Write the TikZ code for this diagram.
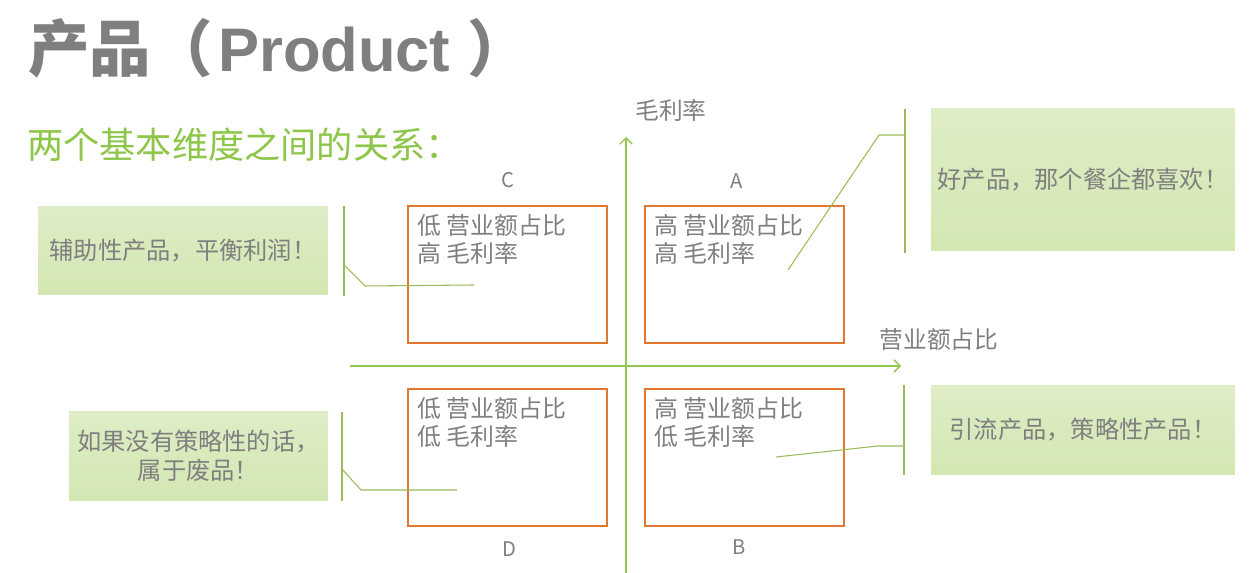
\documentclass[tikz,border=0pt]{standalone}
\usepackage{fontspec}
\setmainfont{Noto Sans CJK SC}
\newfontfamily\latinfont{Liberation Sans}
\usetikzlibrary{arrows.meta}
\definecolor{txtgray}{HTML}{7F7F7F}
\definecolor{axisgreen}{HTML}{92C551}
\definecolor{leadgreen}{HTML}{9BBB59}
\definecolor{subgreen}{HTML}{8DC648}
\definecolor{boxorange}{HTML}{E2772F}
\definecolor{calltop}{HTML}{DEEDC6}
\definecolor{callbot}{HTML}{D3E7B2}
\begin{document}
\begin{tikzpicture}[x=0.02cm,y=-0.02cm,
 quad/.style={draw=boxorange,line width=0.7pt,minimum width=3.98cm,minimum height=2.74cm,inner sep=0},
 quadtext/.style={anchor=north west,inner sep=0,align=left,text=txtgray,font=\fontsize{13.6}{15.9}\selectfont},
 callout/.style={top color=calltop,bottom color=callbot,draw=none,inner sep=0,text=txtgray,font=\fontsize{13.8}{16.4}\selectfont,align=center},
 axis/.style={draw=axisgreen,line width=0.8pt,-{Straight Barb[length=3.5pt,width=7pt]}},
 bar/.style={draw=leadgreen,line width=0.7pt},
 leader/.style={draw=leadgreen,line width=0.6pt},
 letter/.style={text=txtgray,font=\fontsize{11.5}{13}\selectfont,inner sep=0},
 axlabel/.style={text=txtgray,font=\fontsize{13.5}{16}\selectfont,inner sep=0}]

\useasboundingbox[fill=white] (0,0) rectangle (1251,573);

% title and subtitle
\node[anchor=base west,inner sep=0,text=txtgray,font=\fontsize{35}{40}\selectfont\bfseries] (title) at (28,72) {产品（\hspace{3pt}{\latinfont Product }）};
\node[anchor=west,inner sep=0,text=subgreen,font=\fontsize{20.6}{24}\selectfont] (subtitle) at (27,145) {两个基本维度之间的关系：};

% axes
\coordinate (vbot) at (626,573);
\coordinate (vtop) at (626,137);
\coordinate (hleft) at (350,366);
\coordinate (hright) at (901,366);
\draw[axis] (vbot) -- (vtop);
\draw[axis] (hleft) -- (hright);
\node[axlabel] (ylab) at (671,110) {毛利率};
\node[axlabel] (xlab) at (939,340) {营业额占比};

% quadrant boxes
\node[quad] (qC) at (507.5,274.5) {};
\node[quad] (qA) at (744.5,274.5) {};
\node[quad] (qD) at (507.5,457.5) {};
\node[quad] (qB) at (744.5,457.5) {};
\node[quadtext] (tC) at (417,214) {低 营业额占比\\高 毛利率};
\node[quadtext] (tA) at (654,214) {高 营业额占比\\高 毛利率};
\node[quadtext] (tD) at (417,397) {低 营业额占比\\低 毛利率};
\node[quadtext] (tB) at (654,397) {高 营业额占比\\低 毛利率};
\node[letter] (lC) at (508,180) {C};
\node[letter] (lA) at (737,181) {A};
\node[letter] (lD) at (509,549) {D};
\node[letter] (lB) at (739,547) {B};

% callouts
\node[callout,minimum width=5.8cm,minimum height=1.78cm] (cL1) at (183,250.5) {辅助性产品，平衡利润！};
\node[callout,minimum width=6.08cm,minimum height=2.86cm] (cR1) at (1083,179.5) {好产品，那个餐企都喜欢！};
\node[callout,minimum width=5.18cm,minimum height=1.8cm] (cL2) at (198.5,456) {如果没有策略性的话，\\属于废品！};
\node[callout,minimum width=6.08cm,minimum height=1.8cm] (cR2) at (1083,430) {引流产品，策略性产品！};

% callout bars and leaders
\coordinate (bL1t) at (344,206); \coordinate (bL1b) at (344,296);
\coordinate (lL1a) at (344,265); \coordinate (lL1b) at (365,286); \coordinate (lL1c) at (474,285);
\draw[bar] (bL1t) -- (bL1b);
\draw[leader] (lL1a) -- (lL1b) -- (lL1c);

\coordinate (bR1t) at (905,109); \coordinate (bR1b) at (905,253);
\coordinate (lR1a) at (905,135); \coordinate (lR1b) at (879,135); \coordinate (lR1c) at (788,270);
\draw[bar] (bR1t) -- (bR1b);
\draw[leader] (lR1a) -- (lR1b) -- (lR1c);

\coordinate (bL2t) at (342,412); \coordinate (bL2b) at (342,501);
\coordinate (lL2a) at (342,469); \coordinate (lL2b) at (361,490); \coordinate (lL2c) at (457,490);
\draw[bar] (bL2t) -- (bL2b);
\draw[leader] (lL2a) -- (lL2b) -- (lL2c);

\coordinate (bR2t) at (904,385); \coordinate (bR2b) at (904,475);
\coordinate (lR2a) at (904,446); \coordinate (lR2b) at (878,446); \coordinate (lR2c) at (776,457);
\draw[bar] (bR2t) -- (bR2b);
\draw[leader] (lR2a) -- (lR2b) -- (lR2c);
\end{tikzpicture}
\end{document}
